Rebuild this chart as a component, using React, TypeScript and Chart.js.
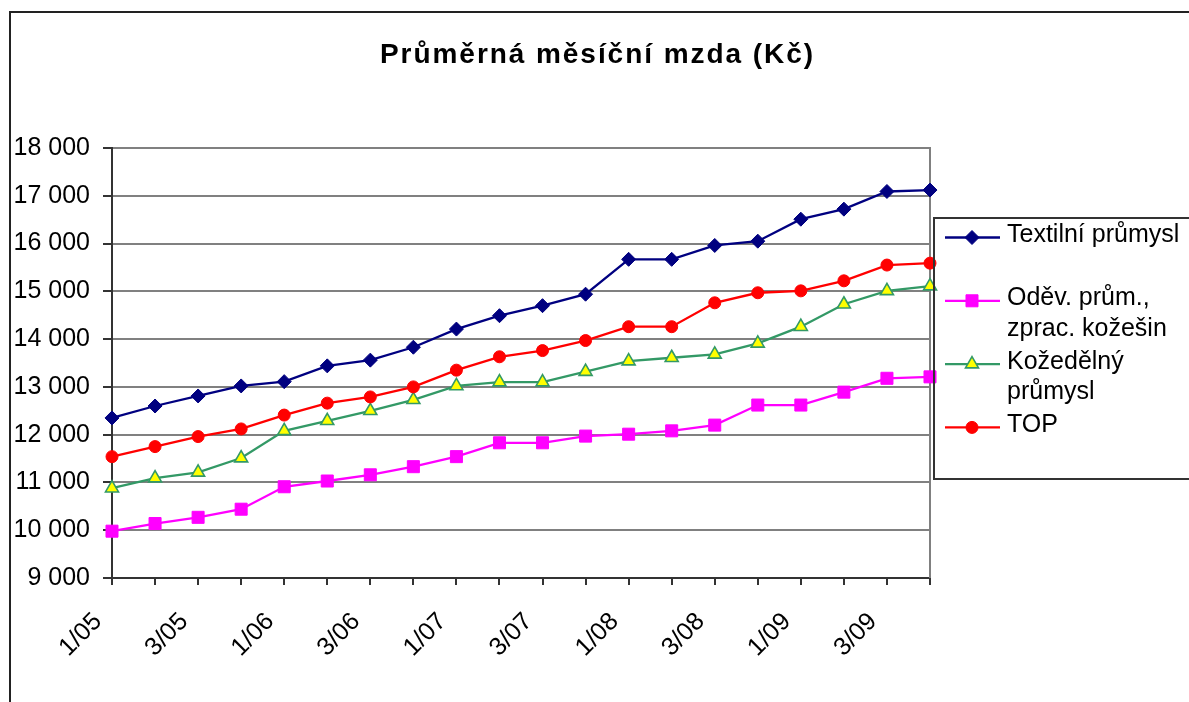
import React, { useEffect, useRef } from 'react';
import { Chart, registerables } from 'chart.js';
import { drawPoint } from 'chart.js/helpers';

Chart.register(...registerables);

const quarters = [
  '1/05', '2/05', '3/05', '4/05',
  '1/06', '2/06', '3/06', '4/06',
  '1/07', '2/07', '3/07', '4/07',
  '1/08', '2/08', '3/08', '4/08',
  '1/09', '2/09', '3/09', '4/09',
];

const textilni = [12350, 12600, 12810, 13020, 13110, 13440, 13560, 13830, 14210, 14490, 14700, 14940, 15670, 15670, 15960, 16050, 16510, 16720, 17090, 17120];
const odev = [9980, 10140, 10270, 10440, 10910, 11030, 11160, 11330, 11540, 11830, 11830, 11970, 12010, 12080, 12200, 12620, 12620, 12890, 13180, 13210];
const kozedelny = [10880, 11090, 11210, 11510, 12080, 12290, 12500, 12730, 13020, 13100, 13100, 13320, 13540, 13610, 13680, 13910, 14260, 14730, 15010, 15110];
const top = [11540, 11750, 11960, 12120, 12410, 12660, 12790, 13000, 13350, 13630, 13760, 13970, 14260, 14260, 14760, 14970, 15010, 15220, 15550, 15590];

const seriesNames = [
  ['Textilní průmysl'],
  ['Oděv. prům.,', 'zprac. kožešin'],
  ['Kožedělný', 'průmysl'],
  ['TOP'],
];

const titleText = 'Průměrná měsíční mzda (Kč)';
const yMin = 9000;
const yMax = 18000;
const yStep = 1000;

const FONT = '"Liberation Sans", Arial, Helvetica, sans-serif';

const fmt = (v: number) => String(v).replace(/\B(?=(\d{3})+(?!\d))/g, ' ');

const decorPlugin = {
  id: 'decor',
  beforeDraw(chart: any) {
    const ctx = chart.ctx as CanvasRenderingContext2D;
    ctx.save();
    ctx.fillStyle = '#ffffff';
    ctx.fillRect(0, 0, chart.width, chart.height);
    ctx.strokeStyle = '#222';
    ctx.lineWidth = 2;
    ctx.strokeRect(10, 12, 1400, 1000);
    ctx.restore();
  },
  beforeDatasetsDraw(chart: any) {
    const ctx = chart.ctx as CanvasRenderingContext2D;
    const a = chart.chartArea;
    ctx.save();
    ctx.strokeStyle = '#808080';
    ctx.lineWidth = 2;
    ctx.beginPath();
    ctx.moveTo(a.right, a.top - 1);
    ctx.lineTo(a.right, a.bottom);
    ctx.stroke();
    ctx.restore();
  },
  afterDraw(chart: any) {
    const ctx = chart.ctx as CanvasRenderingContext2D;
    ctx.save();
    // title
    ctx.font = `bold 28px ${FONT}`;
    ctx.fillStyle = '#000';
    ctx.textAlign = 'left';
    ctx.textBaseline = 'alphabetic';
    (ctx as any).letterSpacing = '0px';
    const raw = ctx.measureText(titleText).width;
    const n = Array.from(titleText).length;
    const sp = Math.max(0, (433 - raw) / (n - 1));
    (ctx as any).letterSpacing = `${sp}px`;
    ctx.fillText(titleText, 380, 63);
    (ctx as any).letterSpacing = '0px';

    // legend box
    ctx.strokeStyle = '#333';
    ctx.lineWidth = 2;
    ctx.strokeRect(934, 218, 400, 261);

    ctx.font = `25px ${FONT}`;
    ctx.textAlign = 'left';
    ctx.textBaseline = 'alphabetic';
    const dsets = chart.data.datasets;
    seriesNames.forEach((lines, i) => {
      const ds = dsets[i];
      const base = 242 + i * 63.3;
      const my = base - 4.5;
      ctx.strokeStyle = ds.borderColor;
      ctx.lineWidth = ds.borderWidth;
      ctx.beginPath();
      ctx.moveTo(945, my);
      ctx.lineTo(1000, my);
      ctx.stroke();
      ctx.fillStyle = ds.pointBackgroundColor;
      ctx.strokeStyle = ds.pointBorderColor;
      ctx.lineWidth = ds.pointBorderWidth;
      drawPoint(ctx, { pointStyle: ds.pointStyle, radius: ds.pointRadius, rotation: 0, borderWidth: ds.pointBorderWidth } as any, 972, my);
      ctx.fillStyle = '#000';
      lines.forEach((ln, j) => {
        ctx.fillText(ln, 1007, base + j * 30.8);
      });
    });
    ctx.restore();
  },
};

export default function App() {
  const ref = useRef<HTMLCanvasElement>(null);
  useEffect(() => {
    const canvas = ref.current!;
    const mk = (i: number, data: number[], color: string, style: string, radius: number, fill: string, borderW: number, order: number) => ({
      label: seriesNames[i].join(' '),
      data,
      borderColor: color,
      backgroundColor: fill,
      borderWidth: 2.3,
      pointStyle: style,
      pointRadius: radius,
      pointHoverRadius: radius,
      pointBorderColor: color,
      pointBackgroundColor: fill,
      pointBorderWidth: borderW,
      tension: 0,
      fill: false,
      clip: false,
      order,
    });
    const chart = new Chart(canvas, {
      type: 'line',
      data: {
        labels: quarters,
        datasets: [
          mk(0, textilni, '#000080', 'rectRot', 7, '#000080', 1, 4),
          mk(1, odev, '#ff00ff', 'rect', 8.5, '#ff00ff', 1, 3),
          mk(2, kozedelny, '#339966', 'triangle', 7.5, '#ffff00', 1.6, 2),
          mk(3, top, '#ff0000', 'circle', 6, '#ff0000', 1, 1),
        ] as any,
      },
      options: {
        responsive: false,
        animation: false,
        devicePixelRatio: 1,
        layout: { padding: { left: 0, top: 148, right: 259, bottom: 0 } },
        plugins: {
          legend: { display: false },
          title: { display: false },
          tooltip: { enabled: false },
        },
        scales: {
          x: {
            type: 'category',
            offset: false,
            ticks: {
              autoSkip: false,
              maxRotation: 45,
              minRotation: 45,
              color: '#000',
              font: { family: FONT, size: 25 },
              padding: 22,
              labelOffset: -14,
              callback: (_v: any, i: number) => (i % 2 === 0 ? quarters[i] : ''),
            },
            grid: {
              display: true,
              drawOnChartArea: false,
              drawTicks: true,
              tickLength: 7,
              color: '#333',
              lineWidth: 2,
            },
            border: { display: true, color: '#333', width: 2 },
            afterFit: (s: any) => { s.height = 124; },
          },
          y: {
            min: yMin,
            max: yMax,
            ticks: {
              stepSize: yStep,
              color: '#000',
              font: { family: FONT, size: 25 },
              padding: 13,
              callback: (v: any) => fmt(Number(v)),
            },
            grid: {
              color: '#808080',
              lineWidth: 2,
              drawTicks: true,
              tickLength: 9,
              tickColor: '#333',
            },
            border: { display: true, color: '#333', width: 2 },
            afterFit: (s: any) => { s.width = 112; },
          },
        },
      } as any,
      plugins: [decorPlugin],
    });
    return () => chart.destroy();
  }, []);
  return (
    <div style={{ position: 'absolute', left: 0, top: 0, width: 1189, height: 702, overflow: 'hidden' }}>
      <canvas ref={ref} width={1189} height={702} style={{ display: 'block' }} />
    </div>
  );
}
